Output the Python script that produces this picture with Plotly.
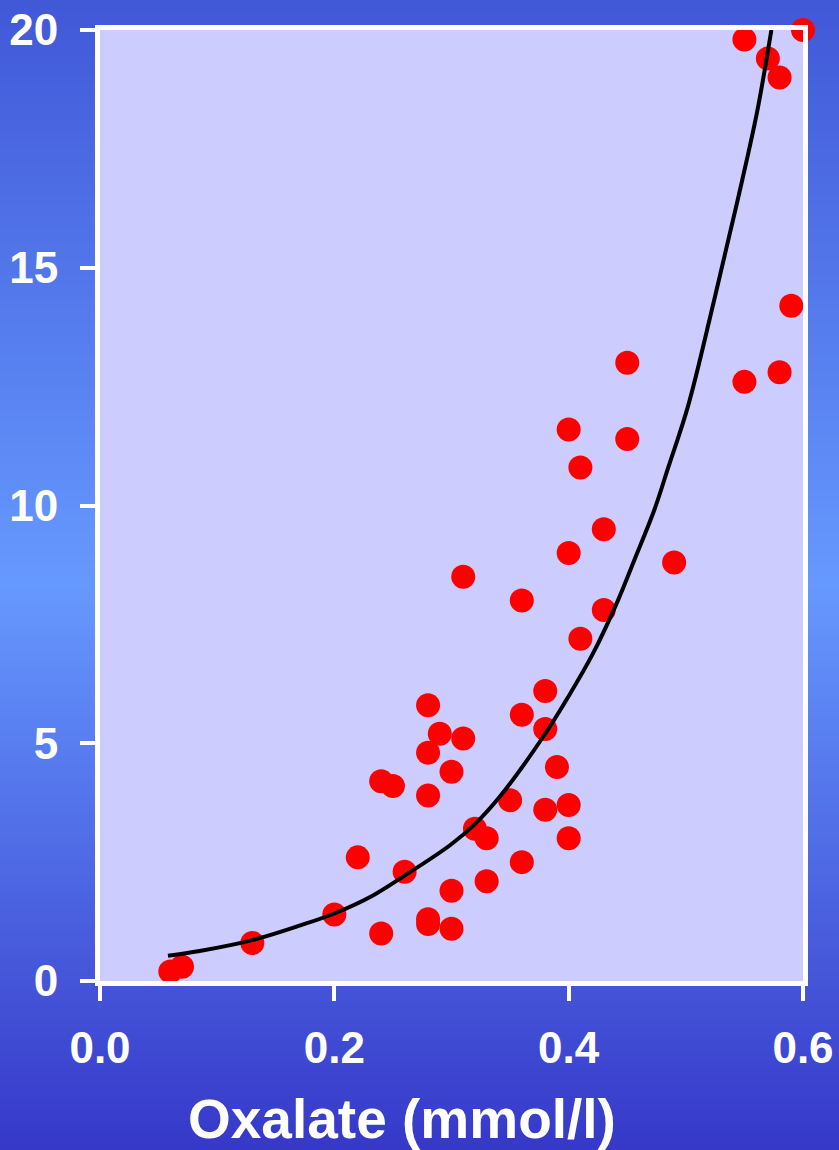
import plotly.graph_objects as go

# Scatter data
oxalate = [0.06, 0.07, 0.13, 0.20, 0.22, 0.24, 0.24, 0.25, 0.26, 0.28, 0.28, 0.28,
           0.28, 0.28, 0.29, 0.30, 0.30, 0.30, 0.31, 0.31, 0.32, 0.33, 0.33, 0.35,
           0.36, 0.36, 0.36, 0.38, 0.38, 0.38, 0.39, 0.40, 0.40, 0.40, 0.40, 0.41,
           0.41, 0.43, 0.43, 0.45, 0.45, 0.49, 0.55, 0.55, 0.57, 0.58, 0.58, 0.59, 0.60]
values = [0.2, 0.3, 0.8, 1.4, 2.6, 1.0, 4.2, 4.1, 2.3, 1.3, 1.2, 3.9,
          4.8, 5.8, 5.2, 4.4, 1.9, 1.1, 5.1, 8.5, 3.2, 3.0, 2.1, 3.8,
          5.6, 8.0, 2.5, 6.1, 5.3, 3.6, 4.5, 9.0, 11.6, 3.7, 3.0, 10.8,
          7.2, 9.5, 7.8, 13.0, 11.4, 8.8, 19.8, 12.6, 19.4, 19.0, 12.8, 14.2, 20.0]

# Trend curve
curve_x = [0.058, 0.085, 0.13, 0.171, 0.20, 0.233, 0.259, 0.299, 0.32, 0.342, 0.38,
           0.399, 0.421, 0.442, 0.456, 0.473, 0.485, 0.502, 0.524, 0.544, 0.561, 0.573]
curve_y = [0.53, 0.63, 0.86, 1.17, 1.42, 1.8, 2.2, 2.86, 3.3, 3.9, 5.2,
           5.95, 6.9, 8.0, 8.85, 9.9, 10.8, 12.1, 14.3, 16.4, 18.3, 20.0]

x_ticks = [0.0, 0.2, 0.4, 0.6]
x_ticklabels = ["0.0", "0.2", "0.4", "0.6"]
y_ticks = [0, 5, 10, 15, 20]
x_title = "Oxalate (mmol/l)"

W, H = 839, 1150
ML, MR, MT, MB = 100, 36, 30, 169
PW, PH = W - ML - MR, H - MT - MB

def py_to_paper(py):
    return (H - MB - py) / PH

top = (65, 88, 215)
mid = (102, 153, 255)
bot = (54, 56, 200)
mid_y = 585

shapes = []
step = 5
for py in range(0, H, step):
    c = py + step / 2
    if c <= mid_y:
        t = c / mid_y
        a, b = top, mid
    else:
        t = (c - mid_y) / (H - mid_y)
        a, b = mid, bot
    col = tuple(round(a[i] + (b[i] - a[i]) * t) for i in range(3))
    shapes.append(dict(type="rect", xref="paper", yref="paper",
                       x0=-ML / PW, x1=(W - ML) / PW,
                       y0=py_to_paper(py + step + 1), y1=py_to_paper(py),
                       fillcolor="rgb(%d,%d,%d)" % col, line=dict(width=0),
                       layer="below"))
shapes.append(dict(type="rect", xref="paper", yref="paper", x0=0, x1=1, y0=0, y1=1,
                   fillcolor="#ccccff", line=dict(width=0), layer="below"))

fig = go.Figure()
fig.add_trace(go.Scatter(x=oxalate, y=values, mode="markers",
                         marker=dict(color="#ff0000", size=24, line=dict(width=0)),
                         cliponaxis=False, hoverinfo="skip"))
fig.add_trace(go.Scatter(x=curve_x, y=curve_y, mode="lines",
                         line=dict(color="black", width=4, shape="spline"),
                         cliponaxis=False, hoverinfo="skip"))

axis_common = dict(showline=True, linecolor="white", linewidth=5, mirror=True,
                   showgrid=False, zeroline=False, ticks="outside", ticklen=15,
                   tickwidth=4, tickcolor="white", automargin=False,
                   tickfont=dict(family="Liberation Sans, Arial", size=44,
                                 color="white", weight="bold"))

fig.update_xaxes(range=[0, 0.6], tickvals=x_ticks, ticktext=x_ticklabels,
                 ticklabelstandoff=9, **axis_common)
fig.update_yaxes(range=[0, 20], tickvals=y_ticks, ticklabelstandoff=13,
                 **axis_common)

fig.add_annotation(text=x_title, xref="paper", yref="paper",
                   x=(402 - ML) / PW, y=py_to_paper(1119), xanchor="center",
                   yanchor="middle", showarrow=False,
                   font=dict(family="Liberation Sans, Arial", size=55,
                             color="white", weight="bold"))

fig.update_layout(width=W, height=H, margin=dict(l=ML, r=MR, t=MT, b=MB, autoexpand=False),
                  paper_bgcolor="rgb(80,110,230)", plot_bgcolor="rgba(0,0,0,0)",
                  showlegend=False, shapes=shapes)

fig.write_html("out.html", config={"displayModeBar": False},
               post_script="document.body.style.margin='0';document.body.style.padding='0';")
